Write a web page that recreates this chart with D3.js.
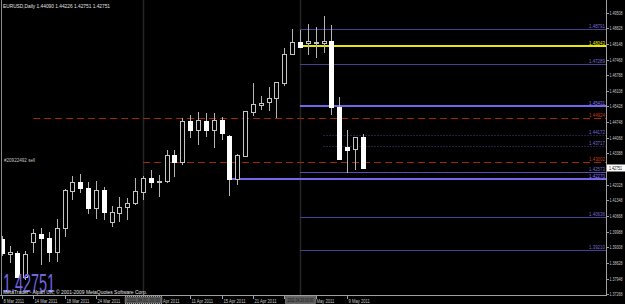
<!DOCTYPE html>
<html><head><meta charset="utf-8">
<script src="https://cdn.jsdelivr.net/npm/d3@7"></script>
<style>html,body{margin:0;padding:0;background:#000;overflow:hidden}</style>
</head><body><svg id="c" width="625" height="304"></svg>
<script>
// ---------- data ----------
const dates = ["2011-03-08","2011-03-09","2011-03-10","2011-03-11","2011-03-14","2011-03-15","2011-03-16","2011-03-17","2011-03-18",
"2011-03-21","2011-03-22","2011-03-23","2011-03-24","2011-03-25","2011-03-28","2011-03-29","2011-03-30","2011-03-31","2011-04-01",
"2011-04-04","2011-04-05","2011-04-06","2011-04-07","2011-04-08","2011-04-11","2011-04-12","2011-04-13","2011-04-14","2011-04-15",
"2011-04-18","2011-04-19","2011-04-20","2011-04-21","2011-04-22","2011-04-25","2011-04-26","2011-04-27","2011-04-28","2011-04-29",
"2011-05-02","2011-05-03","2011-05-04","2011-05-05","2011-05-06","2011-05-09","2011-05-10","2011-05-11"];
const open  = [1.39671,1.39019,1.39062,1.38020,1.39541,1.39888,1.39714,1.39106,1.40149,1.41756,1.42148,1.41887,1.41018,1.41799,1.40409,1.40801,1.41061,1.41235,1.41713,1.42321,1.42169,1.42191,1.43321,1.43030,1.44798,1.44407,1.44800,1.44407,1.44842,1.44159,1.42265,1.43290,1.45202,1.45506,1.45637,1.45784,1.46462,1.47696,1.48218,1.48200,1.48174,1.48174,1.48274,1.45393,1.43655,1.43568,1.44090];
const high  = [1.39801,1.39367,1.39149,1.39149,1.40106,1.40149,1.39975,1.40540,1.41843,1.42408,1.42495,1.42148,1.42191,1.41930,1.41105,1.41496,1.41452,1.42321,1.42408,1.42669,1.42452,1.43538,1.43538,1.44929,1.45059,1.45189,1.45159,1.45146,1.44985,1.44190,1.43364,1.45232,1.46462,1.45884,1.46262,1.46493,1.47957,1.48796,1.48752,1.49013,1.48896,1.49360,1.48970,1.45854,1.44407,1.44103,1.44226];
const low   = [1.38932,1.38628,1.37976,1.37889,1.39062,1.38541,1.38671,1.38671,1.39758,1.41365,1.41669,1.40757,1.40540,1.40497,1.40193,1.40409,1.40497,1.41148,1.41365,1.41887,1.41496,1.42104,1.42365,1.42886,1.44059,1.43755,1.44116,1.43625,1.43972,1.41552,1.42017,1.43234,1.45015,1.45276,1.45246,1.44915,1.46319,1.47666,1.47970,1.47666,1.47522,1.47740,1.45059,1.43125,1.42526,1.42669,1.42751];
const close = [1.39062,1.39106,1.38020,1.39019,1.39932,1.39714,1.39106,1.40149,1.41799,1.42148,1.41887,1.41018,1.41799,1.40844,1.40844,1.41061,1.41235,1.41756,1.42321,1.42148,1.42191,1.43321,1.43017,1.44798,1.44407,1.44842,1.44407,1.44842,1.44290,1.42265,1.43321,1.45232,1.45523,1.45593,1.45784,1.46480,1.47709,1.48218,1.48027,1.48274,1.48231,1.48287,1.45393,1.43134,1.43535,1.44090,1.42751];

const priceTicks = ["1.37268","1.37948","1.38628","1.39308","1.39988","1.40668","1.41348","1.42028","1.42708","1.43388",
"1.44068","1.44748","1.45428","1.46108","1.46788","1.47468","1.48148","1.48828","1.49508"];
const timeTickIdx = [0,4,8,12,16,20,24,28,32,36,40,44];
const separatorIdx = [18,38];
const separatorLabels = ["2011.04.01 00:00","2011.04.29 00:00"];

const levelPrices = [1.48791,1.48043,1.47289,1.45431,1.44924,1.44172,1.43717,1.43002,1.42573,1.42270,1.40636,1.39210];
const levelStart  = [38,38,38,38,4,41,41,18,38,29,38,38];
const levelKind   = ["thin","yellow","thin","bold","red","dot","dot","red","mid","bold","thin","thin"];

const symbol = "EURUSD,Daily";
const lastPrice = 1.42751;
const tradeLabel = "#20922492 sell";
const copyright = "MetaTrader - Alpari UK, \u00a9 2001-2009 MetaQuotes Software Corp.";

// ---------- drawing ----------
const svg = d3.select("#c");
const FONT = "'Liberation Sans', Arial, sans-serif";
const n = dates.length;
const parse = d3.timeParse("%Y-%m-%d");
const fmtDay = d3.timeFormat("%-d %b %Y");
const fmtMonth = d3.timeFormat("%b %Y");

const x = d3.scaleLinear().domain([0, n-1]).range([1.7, 362.8]);
const y = d3.scaleLinear().domain([1.37268, 1.49508]).range([294.3, 12.6]);

svg.append("rect").attr("width",625).attr("height",304).attr("fill","#000");

const defs = svg.append("defs");
defs.append("clipPath").attr("id","plot").append("rect").attr("x",2).attr("y",0).attr("width",604).attr("height",295);
const plot = svg.append("g").attr("clip-path","url(#plot)");

// period separators
plot.selectAll("line.sep").data(separatorIdx).join("line")
  .attr("x1", d => Math.round(x(d))+0.5).attr("x2", d => Math.round(x(d))+0.5)
  .attr("y1",0).attr("y2",295).attr("stroke","#262626").attr("stroke-width",1.5);

// level lines
const styles = {
  thin:  {c:"#4a3e8e", w:1, dash:null, lc:"#7468d0"},
  mid:   {c:"#5a4cb0", w:1, dash:null, lc:"#7468d0"},
  bold:  {c:"#7466e8", w:2, dash:null, lc:"#8478f0"},
  yellow:{c:"#e8e800", w:2, dash:null, lc:"#e8e800"},
  red:   {c:"#a02808", w:1, dash:"7,4", lc:"#c83a10"},
  dot:   {c:"#4a3e8e", w:1, dash:"1,2", lc:"#7468d0"}
};
levelPrices.forEach((p,i) => {
  const s = styles[levelKind[i]];
  const yy = s.w === 2 ? Math.round(y(p)) : Math.round(y(p))+0.5;
  plot.append("line").attr("x1", x(levelStart[i])).attr("x2", 606).attr("y1", yy).attr("y2", yy)
    .attr("stroke", s.c).attr("stroke-width", s.w).attr("stroke-dasharray", s.dash);
  svg.append("text").attr("x", 605).attr("y", yy - 1.5).attr("text-anchor","end")
    .attr("font-family", FONT).attr("font-size", 5.2).attr("fill", s.lc)
    .attr("textLength", 16).attr("lengthAdjust","spacingAndGlyphs").text(p.toFixed(5));
});

// candles
const idx = d3.range(n);
plot.selectAll("line.wick").data(idx).join("line")
  .attr("x1", i => Math.round(x(i))+0.5).attr("x2", i => Math.round(x(i))+0.5)
  .attr("y1", i => Math.round(y(high[i]))).attr("y2", i => Math.round(y(low[i])))
  .attr("stroke","#b4b4b4").attr("stroke-width",1);
plot.selectAll("rect.body").data(idx).join("rect")
  .attr("x", i => Math.round(x(i))-1.5).attr("width",4)
  .attr("y", i => Math.round(y(Math.max(open[i],close[i])))+0.5)
  .attr("height", i => Math.max(0, Math.round(y(Math.min(open[i],close[i]))) - Math.round(y(Math.max(open[i],close[i])))))
  .attr("fill", i => close[i] < open[i] ? "#ffffff" : "#000000")
  .attr("stroke", i => close[i] < open[i] ? "#ffffff" : "#c4c4c4").attr("stroke-width",1);

// frame / axes
svg.append("line").attr("x1",1.5).attr("x2",1.5).attr("y1",0).attr("y2",296).attr("stroke","#8a8a8a");
svg.append("line").attr("x1",606.5).attr("x2",606.5).attr("y1",0).attr("y2",296).attr("stroke","#a0a0a0");
svg.append("line").attr("x1",0).attr("x2",607).attr("y1",295.5).attr("y2",295.5).attr("stroke","#a0a0a0");

// price axis
priceTicks.forEach(t => {
  const yy = Math.round(y(+t))+0.5;
  svg.append("line").attr("x1",606).attr("x2",609).attr("y1",yy).attr("y2",yy).attr("stroke","#a0a0a0");
  svg.append("text").attr("x",609.5).attr("y",yy+1.8).attr("font-family",FONT).attr("font-size",5)
    .attr("fill","#c8c8c8").attr("textLength",13).attr("lengthAdjust","spacingAndGlyphs").text(t);
});
// current price box
const yl = Math.round(y(lastPrice));
svg.append("rect").attr("x",607).attr("y",yl-3.5).attr("width",18).attr("height",7).attr("fill","#ffffff");
svg.append("text").attr("x",609).attr("y",yl+2).attr("font-family",FONT).attr("font-size",5)
  .attr("fill","#000").attr("textLength",13).attr("lengthAdjust","spacingAndGlyphs").text(lastPrice.toFixed(5));

// time axis (labels hidden under the separator boxes are not drawn)
const boxW = [37, 30];
const boxes = separatorIdx.map((d,k) => { const cx = Math.round(x(d))+0.5; return [cx-boxW[k]/2, cx+boxW[k]/2]; });
timeTickIdx.forEach((i,k) => {
  const xx = Math.round(x(i))+0.5;
  svg.append("line").attr("x1",xx).attr("x2",xx).attr("y1",295).attr("y2",299).attr("stroke","#a0a0a0");
  if (boxes.some(b => xx > b[0] && xx < b[1] - 6)) return;
  const dt = parse(dates[i]);
  const prev = k > 0 ? parse(dates[timeTickIdx[k-1]]) : null;
  const newMonth = prev && prev.getMonth() !== dt.getMonth();
  const covered = boxes.find(b => xx >= b[1] - 6 && xx <= b[1] + 2);
  const tx = covered ? covered[1] + 1 : xx + 1;
  const t = svg.append("text").attr("x",tx).attr("y",302.5).attr("font-family",FONT).attr("font-size",5.5)
    .attr("fill","#c8c8c8").text(newMonth ? fmtMonth(dt) : fmtDay(dt));
  const L = t.node().getComputedTextLength();
  t.attr("textLength", L*0.75).attr("lengthAdjust","spacingAndGlyphs");
});
// separator labels on the time axis
separatorIdx.forEach((d,k) => {
  const cx = Math.round(x(d))+0.5;
  svg.append("rect").attr("x",cx-boxW[k]/2).attr("y",296.5).attr("width",boxW[k]).attr("height",7)
    .attr("fill","#5c5c5c").attr("stroke","#9a9a9a").attr("stroke-dasharray","1,1");
  svg.append("text").attr("x",cx).attr("y",302).attr("text-anchor","middle").attr("font-family",FONT)
    .attr("font-size",4.5).attr("fill","#1a1a1a").attr("textLength",boxW[k]-4)
    .attr("lengthAdjust","spacingAndGlyphs").text(separatorLabels[k]);
});

// texts
const last = n-1;
svg.append("text").attr("x",3).attr("y",7.5).attr("font-family",FONT).attr("font-size",6)
  .attr("fill","#e0e0e0").attr("textLength",107).attr("lengthAdjust","spacingAndGlyphs")
  .text(`${symbol}  ${open[last].toFixed(5)} ${high[last].toFixed(5)} ${low[last].toFixed(5)} ${close[last].toFixed(5)}`);
svg.append("text").attr("x",4).attr("y",162).attr("font-family",FONT).attr("font-size",5.5)
  .attr("fill","#c8c8c8").attr("textLength",31).attr("lengthAdjust","spacingAndGlyphs").text(tradeLabel);
svg.append("text").attr("x",3).attr("y",291.5).attr("font-family",FONT).attr("font-size",25)
  .attr("fill","#7266e0").attr("textLength",52).attr("lengthAdjust","spacingAndGlyphs").text(lastPrice.toFixed(5));
svg.append("text").attr("x",3).attr("y",293.5).attr("font-family",FONT).attr("font-size",5.5)
  .attr("fill","#e0e0e0").attr("textLength",144).attr("lengthAdjust","spacingAndGlyphs").text(copyright);
</script></body></html>
